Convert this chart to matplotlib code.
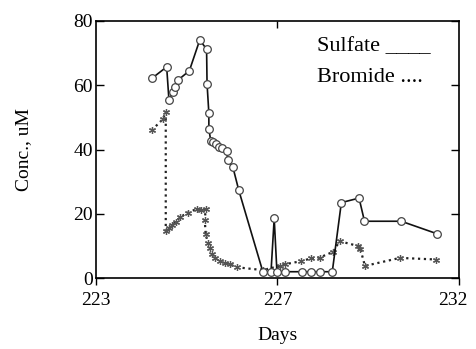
import matplotlib
matplotlib.use("Agg")
from matplotlib import pyplot as plt
from matplotlib import transforms

plt.rcParams['font.family'] = ['Liberation Serif', 'DejaVu Serif']

# sulfate (open circles, solid line)
sulfate_days = [224.23, 224.56, 224.61, 224.70, 224.74, 224.81, 225.06, 225.29,
                225.44, 225.45, 225.49, 225.49, 225.53, 225.58, 225.64, 225.72,
                225.79, 225.88, 225.91, 226.02, 226.15, 226.68, 226.86, 226.93,
                226.99, 227.16, 227.54, 227.75, 227.93, 228.21, 228.41, 228.80,
                228.92, 229.73, 230.52]
sulfate_conc = [62.1, 65.7, 55.5, 57.9, 59.5, 61.6, 64.5, 74.1,
                71.2, 60.5, 51.3, 46.5, 42.8, 42.3, 41.8, 40.9,
                40.4, 39.7, 36.6, 34.5, 27.3, 2.0, 2.0, 18.6,
                2.0, 2.0, 2.0, 2.0, 2.0, 2.0, 23.5, 24.9,
                17.7, 17.7, 13.8]

# bromide (asterisks, dotted line)
bromide_days = [224.23, 224.48, 224.54, 224.54, 224.61, 224.68, 224.76, 224.86,
                225.03, 225.22, 225.32, 225.42, 225.40, 225.42, 225.47, 225.51,
                225.55, 225.62, 225.73, 225.84, 225.95, 226.10, 226.68, 227.05,
                227.16, 227.53, 227.75, 227.93, 228.23, 228.37, 228.78, 228.83,
                228.93, 229.70, 230.50]
bromide_conc = [46.0, 49.5, 51.7, 14.7, 15.5, 16.5, 17.5, 19.0,
                20.4, 21.5, 21.2, 21.5, 18.0, 13.6, 11.0, 9.5,
                7.6, 6.3, 5.3, 4.8, 4.3, 3.4, 2.5, 3.8,
                4.3, 5.3, 6.2, 6.4, 8.2, 11.5, 10.0, 9.0,
                3.8, 6.3, 5.8]

x_ticks = [223, 227, 231]
x_tick_labels = ['223', '227', '232']
y_ticks = [0, 20, 40, 60, 80]

fig = plt.figure(figsize=(4.77, 3.49), dpi=100)
ax = fig.add_axes([0.201, 0.203, 0.761, 0.737])

ax.plot(bromide_days, bromide_conc, linestyle=':', linewidth=1.6, color='#222222',
        marker=(6, 2, 0), markersize=5, markeredgecolor='#555555',
        markeredgewidth=0.9, zorder=2)
ax.plot(sulfate_days, sulfate_conc, linestyle='-', linewidth=1.2, color='#111111',
        marker='o', markersize=5.5, markerfacecolor='white',
        markeredgecolor='#444444', markeredgewidth=0.9, zorder=3)

ax.set_xlim(223, 231)
ax.set_ylim(0, 80)
ax.set_xticks(x_ticks)
ax.set_xticklabels(x_tick_labels)
ax.set_yticks(y_ticks)

ax.tick_params(axis='y', direction='in', length=6, width=1, right=True,
               labelsize=14, pad=2)
ax.tick_params(axis='x', direction='out', length=5, width=1, labelsize=14, pad=5)
for s in ax.spines.values():
    s.set_linewidth(1.2)

# nudge the last x label left, as in the original
last = ax.get_xticklabels()[-1]
last.set_transform(last.get_transform() +
                   transforms.ScaledTranslation(-6 / 100, 0, fig.dpi_scale_trans))

top = ax.secondary_xaxis('top')
top.set_xticks([227])
top.tick_params(direction='in', length=5, width=1, labeltop=False)
top.spines['top'].set_visible(False)

ax.set_xlabel('Days', fontsize=14, labelpad=13)
ax.set_ylabel('Conc., uM', fontsize=14, labelpad=30)

ax.text(0.61, 0.9, 'Sulfate ____', transform=ax.transAxes, fontsize=16,
        va='center', ha='left')
ax.text(0.61, 0.78, 'Bromide ....', transform=ax.transAxes, fontsize=16,
        va='center', ha='left')

fig.savefig('out.png', dpi=100)
